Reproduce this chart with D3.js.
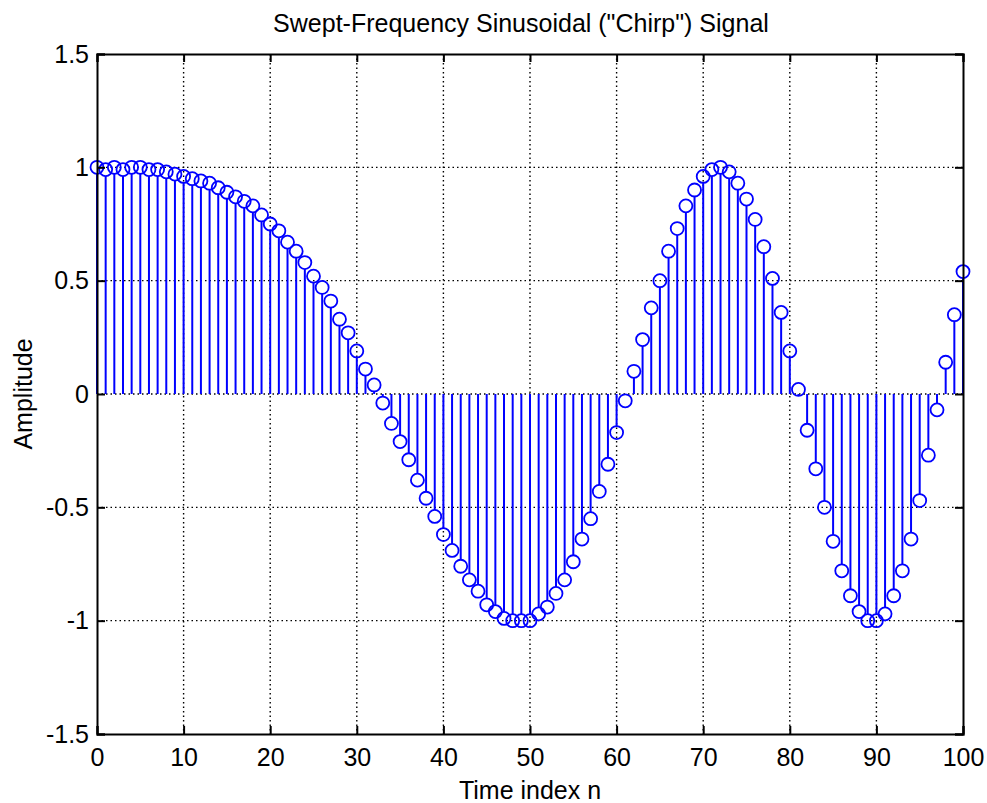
<!DOCTYPE html>
<html>
<head>
<meta charset="utf-8">
<script src="https://cdn.jsdelivr.net/npm/d3@7"></script>
<style>
  body { margin: 0; background: #fff; }
  svg text { font-family: "Liberation Sans", Arial, sans-serif; fill: #000; }
</style>
</head>
<body>
<div id="chart"></div>
<script>
// amplitude values, n = 0..100
const amplitude = [
  1.00, 0.99, 1.00, 0.99, 1.00, 1.00, 0.99, 0.99, 0.98, 0.97,
  0.96, 0.95, 0.94, 0.93, 0.91, 0.89, 0.87, 0.85, 0.83, 0.79,
  0.75, 0.72, 0.67, 0.63, 0.58, 0.52, 0.47, 0.41, 0.33, 0.27,
  0.19, 0.11, 0.04, -0.04, -0.13, -0.21, -0.29, -0.38, -0.46, -0.54,
  -0.62, -0.69, -0.76, -0.82, -0.87, -0.93, -0.96, -0.99, -1.00, -1.00,
  -1.00, -0.97, -0.94, -0.88, -0.82, -0.74, -0.64, -0.55, -0.43, -0.31,
  -0.17, -0.03, 0.10, 0.24, 0.38, 0.50, 0.63, 0.73, 0.83, 0.90,
  0.96, 0.99, 1.00, 0.98, 0.93, 0.86, 0.77, 0.65, 0.51, 0.36,
  0.19, 0.02, -0.16, -0.33, -0.50, -0.65, -0.78, -0.89, -0.96, -1.00,
  -1.00, -0.97, -0.89, -0.78, -0.64, -0.47, -0.27, -0.07, 0.14, 0.35,
  0.54
];
const xTicks = [0, 10, 20, 30, 40, 50, 60, 70, 80, 90, 100];
const yTicks = [-1.5, -1, -0.5, 0, 0.5, 1, 1.5];
const titleText = 'Swept-Frequency Sinusoidal ("Chirp") Signal';
const xLabel = "Time index n";
const yLabel = "Amplitude";

const width = 987, height = 803;
const margin = { top: 54, right: 24, bottom: 69, left: 97 };
const plotW = width - margin.left - margin.right;
const plotH = height - margin.top - margin.bottom;
const fontSize = 25;

const data = amplitude.map((v, i) => ({ n: i, v }));

const svg = d3.select("#chart").append("svg")
    .attr("width", width)
    .attr("height", height);

const x = d3.scaleLinear().domain([0, 100]).range([0, plotW]);
const y = d3.scaleLinear().domain([-1.5, 1.5]).range([plotH, 0]);

const g = svg.append("g")
    .attr("transform", `translate(${margin.left},${margin.top})`);

// dotted grid
g.append("g").selectAll("line")
    .data(xTicks.slice(1, -1))
    .join("line")
    .attr("x1", d => x(d)).attr("x2", d => x(d))
    .attr("y1", 0).attr("y2", plotH)
    .attr("stroke", "#000").attr("stroke-width", 1.4)
    .attr("stroke-dasharray", "1.5,3");

g.append("g").selectAll("line")
    .data(yTicks.slice(1, -1))
    .join("line")
    .attr("y1", d => y(d)).attr("y2", d => y(d))
    .attr("x1", 0).attr("x2", plotW)
    .attr("stroke", "#000").attr("stroke-width", 1.4)
    .attr("stroke-dasharray", "1.5,3");

// stems + hollow markers
g.append("g").selectAll("line")
    .data(data)
    .join("line")
    .attr("x1", d => x(d.n)).attr("x2", d => x(d.n))
    .attr("y1", y(0))
    .attr("y2", d => y(d.v) + (d.v >= 0 ? 6.5 : -6.5))
    .attr("stroke", "#0000ff").attr("stroke-width", 2);

g.append("g").selectAll("circle")
    .data(data)
    .join("circle")
    .attr("cx", d => x(d.n))
    .attr("cy", d => y(d.v))
    .attr("r", 6.5)
    .attr("fill", "none")
    .attr("stroke", "#0000ff")
    .attr("stroke-width", 1.8);

// axes, ticks inside, box on
const tickLen = 8;
const xAxis = g.append("g")
    .attr("transform", `translate(0,${plotH})`)
    .call(d3.axisBottom(x).tickValues(xTicks).tickSize(-tickLen).tickPadding(14).tickFormat(d3.format("d")));
const yAxis = g.append("g")
    .call(d3.axisLeft(y).tickValues(yTicks).tickSize(-tickLen).tickPadding(8).tickFormat(d => d));
const xTop = g.append("g")
    .call(d3.axisTop(x).tickValues(xTicks).tickSize(-tickLen).tickFormat(""));
const yRight = g.append("g")
    .attr("transform", `translate(${plotW},0)`)
    .call(d3.axisRight(y).tickValues(yTicks).tickSize(-tickLen).tickFormat(""));

[xAxis, yAxis, xTop, yRight].forEach(a => {
    a.select(".domain").attr("stroke", "#000").attr("stroke-width", 2);
    a.selectAll(".tick line").attr("stroke", "#000").attr("stroke-width", 2);
    a.selectAll(".tick text").attr("font-size", fontSize).attr("font-family", "Liberation Sans, Arial, sans-serif");
});

svg.append("text")
    .attr("x", 521)
    .attr("y", 32)
    .attr("text-anchor", "middle")
    .attr("font-size", fontSize)
    .text(titleText);

svg.append("text")
    .attr("x", margin.left + plotW / 2)
    .attr("y", 799)
    .attr("text-anchor", "middle")
    .attr("font-size", fontSize)
    .text(xLabel);

svg.append("text")
    .attr("transform", `translate(32,${margin.top + plotH / 2}) rotate(-90)`)
    .attr("text-anchor", "middle")
    .attr("font-size", fontSize)
    .text(yLabel);
</script>
</body>
</html>
